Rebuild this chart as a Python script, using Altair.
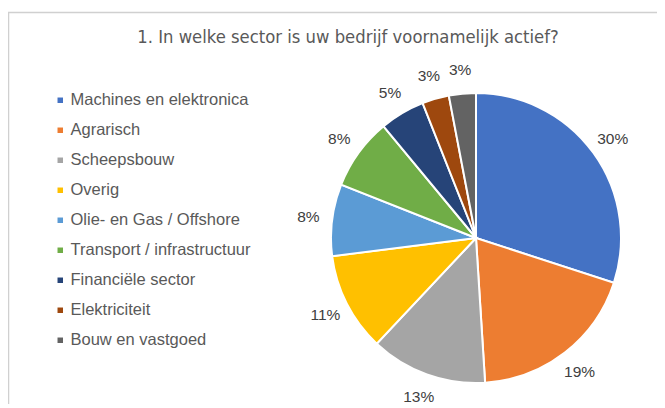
import altair as alt
import pandas as pd

sectors = ["Machines en elektronica", "Agrarisch", "Scheepsbouw", "Overig",
           "Olie- en Gas / Offshore", "Transport / infrastructuur",
           "Financiële sector", "Elektriciteit", "Bouw en vastgoed"]
shares = [30, 19, 13, 11, 8, 8, 5, 3, 3]
colors = ["#4472C4", "#ED7D31", "#A5A5A5", "#FFC000", "#5B9BD5",
          "#70AD47", "#264478", "#9E480E", "#636363"]
title_text = "1. In welke sector is uw bedrijf voornamelijk actief?"

df = pd.DataFrame({"sector": sectors, "share": shares, "order": list(range(len(sectors)))})
df["label"] = df["share"].astype(str) + "%"

W, H = 649, 396
CX, CY = 468, 230
FONT = "Liberation Sans"

base = alt.Chart(df).encode(
    theta=alt.Theta("share:Q", stack=True),
    order=alt.Order("order:Q"),
)

pie = base.mark_arc(outerRadius=145, stroke="white", strokeWidth=2).encode(
    x=alt.value(CX), y=alt.value(CY),
    color=alt.Color(
        "sector:N", sort=sectors,
        scale=alt.Scale(domain=sectors, range=colors),
        legend=alt.Legend(
            title=None, orient="none", legendX=44, legendY=84,
            symbolType="square", symbolSize=30, symbolStrokeWidth=0,
            labelFontSize=16.5, labelFont=FONT, labelColor="#595959",
            labelOffset=2, rowPadding=13, labelLimit=300,
        ),
    ),
)

labels = base.mark_text(radius=169, fontSize=15.5, font=FONT, color="#404040").encode(
    x=alt.value(CX), y=alt.value(CY), text="label:N"
)

one = pd.DataFrame({"t": [title_text]})
title = alt.Chart(one).mark_text(
    fontSize=18.3, font="Liberation Sans Narrow, DejaVu Sans Condensed, sans-serif",
    color="#595959", align="center", baseline="middle"
).encode(x=alt.value(340), y=alt.value(30), text="t:N")

frame = alt.Chart(one).mark_rect(fill="transparent", stroke="#D0D0D0", strokeWidth=1.5).encode(
    x=alt.value(0.5), x2=alt.value(900), y=alt.value(4.5), y2=alt.value(900)
)

chart = alt.layer(frame, pie, labels, title).properties(
    width=W, height=H, autosize=alt.AutoSizeParams(type="none"), padding=0,
    background="white",
).configure_view(strokeWidth=0)

chart.save("out.html", embed_options={"renderer": "svg", "actions": False})
